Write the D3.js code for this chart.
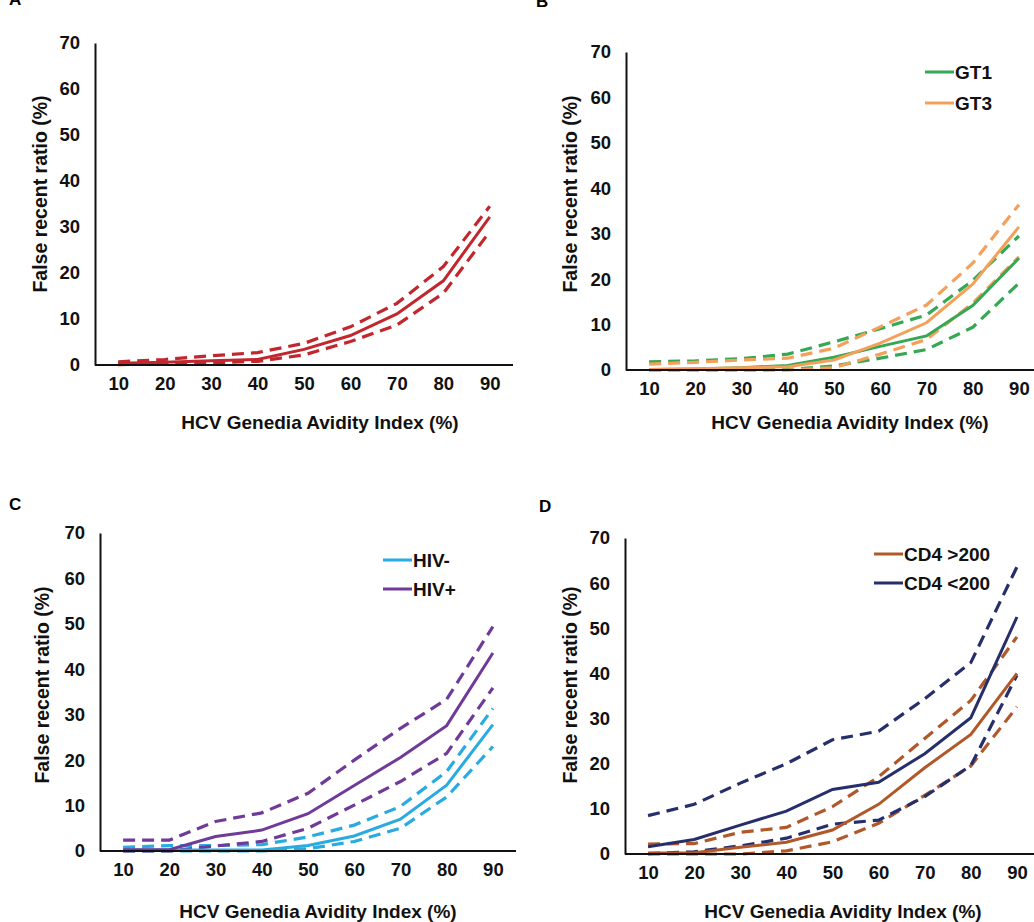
<!DOCTYPE html>
<html>
<head>
<meta charset="utf-8">
<script src="https://cdn.jsdelivr.net/npm/d3@7"></script>
<style>
  body { margin: 0; background: #fff; }
  svg { font-family: "Liberation Sans", Arial, sans-serif; font-weight: bold; }
</style>
</head>
<body>
<svg id="chart" width="1034" height="922"></svg>
<script>
// categories on the x axis (HCV Genedia Avidity Index, %)
const categories = [10, 20, 30, 40, 50, 60, 70, 80, 90];
const yTicks = [0, 10, 20, 30, 40, 50, 60, 70];

// A: all samples
const allMean = [0.4, 0.6, 0.9, 1.2, 3.4, 6.4, 11.1, 18.3, 32.2];
const allUpper = [0.7, 1.2, 2.0, 2.7, 4.7, 8.3, 13.4, 21.4, 34.5];
const allLower = [0.1, 0.3, 0.5, 0.8, 2.2, 5.1, 8.7, 15.6, 29.0];

// B: genotype
const gt1Mean = [0.1, 0.2, 0.5, 1.0, 2.8, 5.2, 7.5, 14.2, 24.6];
const gt1Upper = [1.8, 2.0, 2.5, 3.5, 6.2, 9.1, 12.1, 19.7, 29.5];
const gt1Lower = [0.0, 0.0, 0.0, 0.1, 0.9, 2.6, 4.5, 9.4, 19.1];
const gt3Mean = [0.1, 0.3, 0.5, 0.7, 2.2, 5.9, 10.4, 18.9, 31.5];
const gt3Upper = [1.3, 1.7, 2.2, 2.6, 4.8, 9.5, 14.3, 23.5, 36.4];
const gt3Lower = [0.0, 0.0, 0.0, 0.0, 0.5, 3.5, 6.7, 14.7, 24.9];

// C: HIV status
const hivNegMean = [0.2, 0.2, 0.2, 0.2, 1.2, 3.3, 7.0, 14.5, 27.8];
const hivNegUpper = [0.8, 1.2, 1.2, 1.4, 3.1, 5.7, 9.8, 17.5, 31.4];
const hivNegLower = [0.0, 0.0, 0.0, 0.0, 0.5, 2.1, 5.0, 11.9, 23.0];
const hivPosMean = [0.3, 0.3, 3.2, 4.6, 8.2, 14.4, 20.6, 27.6, 43.6];
const hivPosUpper = [2.4, 2.4, 6.5, 8.4, 12.7, 20.0, 27.0, 33.4, 49.4];
const hivPosLower = [0.0, 0.0, 1.1, 2.1, 5.0, 10.1, 15.3, 21.5, 35.9];

// D: CD4 count
const cd4HighMean = [0.2, 0.3, 1.5, 2.6, 5.3, 11.0, 19.1, 26.5, 40.0];
const cd4HighUpper = [2.2, 2.3, 4.8, 5.9, 10.5, 17.1, 25.6, 34.0, 48.1];
const cd4HighLower = [0.0, 0.0, 0.0, 0.7, 2.7, 6.8, 13.0, 19.5, 32.6];
const cd4LowMean = [1.6, 3.2, 6.4, 9.5, 14.3, 15.9, 22.2, 30.2, 52.5];
const cd4LowUpper = [8.5, 11.0, 15.7, 20.0, 25.3, 27.2, 34.4, 42.4, 63.6];
const cd4LowLower = [0.1, 0.5, 1.8, 3.5, 6.6, 7.5, 12.7, 19.6, 39.6];

const svg = d3.select("#chart");

// panel layout
const panels = [
  {
    letter: "A", letterX: 9, letterY: 5,
    left: 95, right: 513, top: 43, bottom: 365,
    titleX: 320, titleY: 429, yLabelX: 47, yLabelY: 194,
    series: [
      { name: "All", color: "#c1272d", mean: allMean, upper: allUpper, lower: allLower },
    ],
    legend: null,
  },
  {
    letter: "B", letterX: 536, letterY: 7,
    left: 626, right: 1042, top: 52, bottom: 370,
    titleX: 850, titleY: 429, yLabelX: 577, yLabelY: 194,
    series: [
      { name: "GT1", color: "#34a853", mean: gt1Mean, upper: gt1Upper, lower: gt1Lower },
      { name: "GT3", color: "#f5a05a", mean: gt3Mean, upper: gt3Upper, lower: gt3Lower },
    ],
    legend: { x: 925, y: 72, gap: 31 },
  },
  {
    letter: "C", letterX: 9, letterY: 510,
    left: 100, right: 516, top: 533, bottom: 851,
    titleX: 318, titleY: 918, yLabelX: 49, yLabelY: 685,
    series: [
      { name: "HIV-", color: "#29abe2", mean: hivNegMean, upper: hivNegUpper, lower: hivNegLower },
      { name: "HIV+", color: "#6f3a98", mean: hivPosMean, upper: hivPosUpper, lower: hivPosLower },
    ],
    legend: { x: 383, y: 560, gap: 29 },
  },
  {
    letter: "D", letterX: 539, letterY: 512,
    left: 625, right: 1040, top: 538, bottom: 854,
    titleX: 843, titleY: 918, yLabelX: 577, yLabelY: 685,
    series: [
      { name: "CD4 >200", color: "#b0582a", mean: cd4HighMean, upper: cd4HighUpper, lower: cd4HighLower },
      { name: "CD4 <200", color: "#262e6b", mean: cd4LowMean, upper: cd4LowUpper, lower: cd4LowLower },
    ],
    legend: { x: 874, y: 554, gap: 29 },
  },
];

const drawPanel = (p) => {
  const g = svg.append("g");

  const x = d3.scalePoint().domain(categories).range([p.left, p.right]).padding(0.5);
  const y = d3.scaleLinear().domain([0, 70]).range([p.bottom, p.top]);

  // panel letter
  g.append("text")
    .attr("x", p.letterX)
    .attr("y", p.letterY)
    .attr("font-size", 17)
    .text(p.letter);

  // lines: dashed bounds first, solid estimate on top
  const line = d3.line()
    .x((d, i) => x(categories[i]))
    .y((d) => y(d));

  p.series.forEach((s) => {
    [s.upper, s.lower].forEach((vals) => {
      g.append("path")
        .datum(vals)
        .attr("d", line)
        .attr("fill", "none")
        .attr("stroke", s.color)
        .attr("stroke-width", 3.2)
        .attr("stroke-dasharray", "12,7");
    });
  });
  p.series.forEach((s) => {
    g.append("path")
      .datum(s.mean)
      .attr("d", line)
      .attr("fill", "none")
      .attr("stroke", s.color)
      .attr("stroke-width", 3);
  });

  // y axis
  const yAxis = g.append("g")
    .attr("transform", `translate(${p.left},0)`)
    .call(d3.axisLeft(y).tickValues(yTicks).tickSize(0).tickPadding(15));
  yAxis.select(".domain").attr("stroke", "#111").attr("stroke-width", 2);
  yAxis.selectAll("text")
    .attr("font-size", 18.5)
    .attr("font-family", "Liberation Sans, Arial, sans-serif")
    .attr("font-weight", "bold")
    .attr("fill", "#111");

  // x axis
  const xAxis = g.append("g")
    .attr("transform", `translate(0,${p.bottom})`)
    .call(d3.axisBottom(x).tickSize(0).tickPadding(12));
  xAxis.select(".domain")
    .attr("d", `M${p.left},0H${p.right}`)
    .attr("stroke", "#111")
    .attr("stroke-width", 2);
  xAxis.selectAll("text")
    .attr("font-size", 18.5)
    .attr("font-family", "Liberation Sans, Arial, sans-serif")
    .attr("font-weight", "bold")
    .attr("fill", "#111");

  // axis titles
  g.append("text")
    .attr("x", p.titleX)
    .attr("y", p.titleY)
    .attr("text-anchor", "middle")
    .attr("font-size", 19)
    .attr("fill", "#111")
    .text("HCV Genedia Avidity Index (%)");

  g.append("text")
    .attr("transform", `translate(${p.yLabelX},${p.yLabelY}) rotate(-90)`)
    .attr("text-anchor", "middle")
    .attr("font-size", 19.5)
    .attr("fill", "#111")
    .text("False recent ratio (%)");

  // legend
  if (p.legend) {
    const legend = g.selectAll(".legend")
      .data(p.series)
      .enter()
      .append("g")
      .attr("class", "legend")
      .attr("transform", (d, i) => `translate(${p.legend.x},${p.legend.y + i * p.legend.gap})`);
    legend.append("line")
      .attr("x1", 0)
      .attr("x2", 29)
      .attr("stroke", (d) => d.color)
      .attr("stroke-width", 3);
    legend.append("text")
      .attr("x", 30)
      .attr("y", 7)
      .attr("font-size", 19)
      .attr("fill", "#111")
      .text((d) => d.name);
  }
};

panels.forEach(drawPanel);
</script>
</body>
</html>
